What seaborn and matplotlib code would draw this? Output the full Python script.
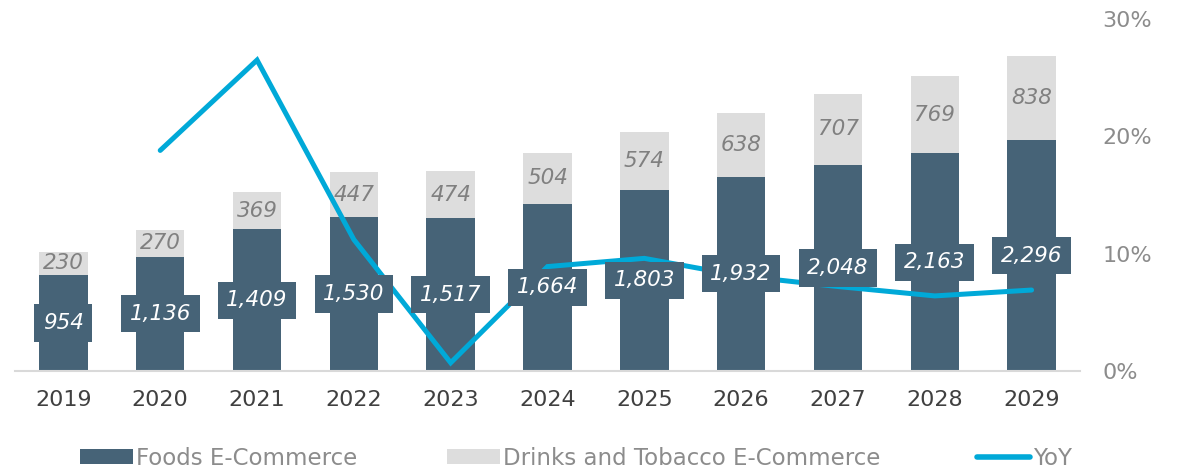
import numpy as np
import pandas as pd
import matplotlib
matplotlib.use("Agg")
import matplotlib.pyplot as plt
import seaborn as sns
from matplotlib.patches import Patch
from matplotlib.lines import Line2D

years = ["2019", "2020", "2021", "2022", "2023", "2024", "2025", "2026", "2027", "2028", "2029"]
foods = [954, 1136, 1409, 1530, 1517, 1664, 1803, 1932, 2048, 2163, 2296]
drinks = [230, 270, 369, 447, 474, 504, 574, 638, 707, 769, 838]
yoy_years = ["2020", "2021", "2022", "2023", "2024", "2025", "2026", "2027", "2028", "2029"]
yoy = [0.188, 0.265, 0.112, 0.007, 0.089, 0.096, 0.081, 0.072, 0.064, 0.069]

DARK = "#466377"
LIGHT = "#DDDDDD"
CYAN = "#00A9D8"
GREY_TXT = "#808080"

sns.set_theme(style="white")
plt.rcParams["font.family"] = ["DejaVu Sans"]

df = pd.DataFrame({"year": years, "foods": foods, "drinks": drinks})
df["total"] = df["foods"] + df["drinks"]

fig = plt.figure(figsize=(11.83, 4.69), dpi=100)
ax = fig.add_axes([15 / 1183, 98 / 469, 1065 / 1183, 352 / 469])

sns.barplot(data=df, x="year", y="total", color=LIGHT, width=0.5, ax=ax,
            saturation=1, edgecolor="none", order=years)
sns.barplot(data=df, x="year", y="foods", color=DARK, width=0.5, ax=ax,
            saturation=1, edgecolor="none", order=years)

ax.set_ylim(0, 3500)
ax.set_xlim(-0.5, len(years) - 0.5)
ax.set_xlabel("")
ax.set_ylabel("")
ax.set_yticks([])
for s in ["top", "left", "right"]:
    ax.spines[s].set_visible(False)
ax.spines["bottom"].set_color("#D9D9D9")
ax.spines["bottom"].set_linewidth(1.5)
ax.tick_params(axis="x", length=0, pad=14, labelsize=16, labelcolor="#404040")

ax2 = ax.twinx()
xpos = [years.index(y) for y in yoy_years]
sns.lineplot(x=xpos, y=yoy, ax=ax2, color=CYAN, linewidth=3.6,
             solid_capstyle="round", solid_joinstyle="miter", zorder=2)
ax2.set_ylim(0, 0.3)
ax2.set_yticks([0, 0.1, 0.2, 0.3])
ax2.set_yticklabels(["0%", "10%", "20%", "30%"])
ax2.tick_params(axis="y", length=0, pad=16, labelsize=16, labelcolor="#8C8C8C")
for s in ["top", "left", "right", "bottom"]:
    ax2.spines[s].set_visible(False)
ax2.set_ylabel("")

# value labels drawn above the line (in ax2) but positioned in bar data coords
for i, (f, d) in enumerate(zip(foods, drinks)):
    ax2.text(i, f / 2, f"{f:,}", ha="center", va="center", fontsize=15.5,
             style="italic", color="white", zorder=5, transform=ax.transData,
             bbox=dict(boxstyle="square,pad=0.4", fc=DARK, ec="none"))
    ax2.text(i, f + d / 2, f"{d:,}", ha="center", va="center", fontsize=15.5,
             style="italic", color=GREY_TXT, zorder=5, transform=ax.transData)

legend_items = [
    (Patch(facecolor=DARK, edgecolor="none", label="Foods E-Commerce"), 80),
    (Patch(facecolor=LIGHT, edgecolor="none", label="Drinks and Tobacco E-Commerce"), 447),
    (Line2D([0], [0], color=CYAN, lw=4, solid_capstyle="round", label="YoY"), 977),
]
for h, xpx in legend_items:
    fig.legend(handles=[h], loc="center left", bbox_to_anchor=(xpx / 1183, 11 / 469),
               frameon=False, fontsize=16.5, handlelength=2.3, handleheight=0.6,
               handletextpad=0.15, borderpad=0, borderaxespad=0,
               labelcolor="#8C8C8C")

fig.savefig("out.png", dpi=100)
